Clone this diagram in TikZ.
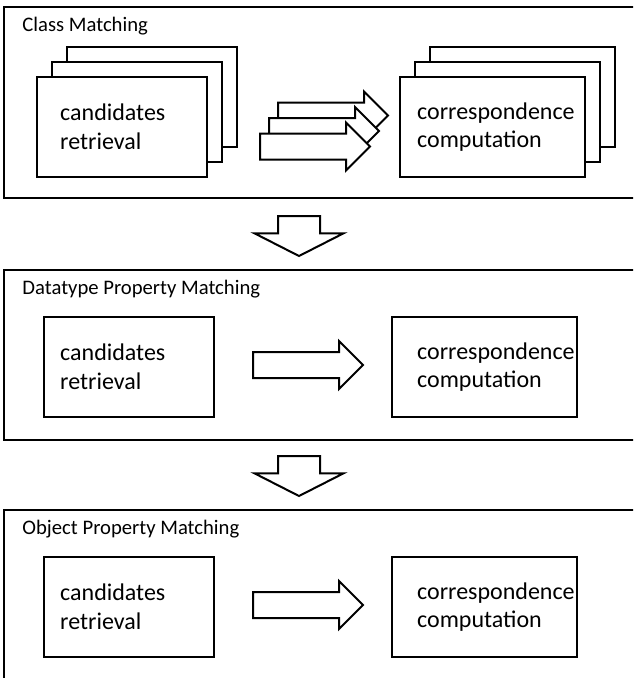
\documentclass[tikz,border=0pt]{standalone}
\usepackage{fontspec}
\setmainfont{Carlito}
\usetikzlibrary{shapes.arrows, positioning}
\tikzset{
	panel/.style={
		rectangle,
		draw=black,
		line width=1.2pt,
		inner sep=0pt
	},
	paneltitle/.style={
		anchor=west,
		inner sep=0pt,
		font=\fontsize{15.5}{19}\selectfont
	},
	stagebox/.style={
		rectangle,
		draw=black,
		fill=white,
		line width=1.6pt,
		minimum height=75pt,
		inner sep=0pt
	},
	stagetext/.style={
		align=left,
		inner sep=0pt,
		font=\fontsize{18}{21.5}\selectfont
	},
	flowarrow/.style={
		single arrow,
		draw=black,
		fill=white,
		line width=1.5pt,
		inner xsep=0pt,
		inner ysep=9pt,
		minimum height=82.5pt,
		minimum width=34.5pt,
		single arrow head extend=8.25pt,
		single arrow tip angle=90,
		anchor=tail
	},
	downarrow/.style={
		single arrow,
		draw=black,
		fill=white,
		line width=1.5pt,
		inner xsep=0pt,
		inner ysep=15pt,
		minimum height=30pt,
		minimum width=65pt,
		single arrow head extend=17.6pt,
		single arrow tip angle=126,
		rotate=-90,
		anchor=tail
	}
}

\begin{document}
\begin{tikzpicture}[x=0.75pt, y=-0.75pt]
	\useasboundingbox (0,0) rectangle (633,678);
	\fill[white] (0,0) rectangle (633,678);
	\clip (0,0) rectangle (633,678);

	% class matching
	\node (p1) [panel, minimum width=484.5pt, minimum height=143.25pt] at (327,102.5) {};
	\node (t1) [paneltitle, below right=8.25pt and 14.25pt of p1.north west] {Class Matching};
	\node (cl3) [stagebox, minimum width=127.5pt] at (152,97) {};
	\node (cl2) [stagebox, minimum width=127.5pt] at (137,112) {};
	\node (cl1) [stagebox, minimum width=127.5pt] at (122,127) {};
	\node (cltext) [stagetext, right=18pt of cl1.west] {candidates\\retrieval};
	\node (cr3) [stagebox, minimum width=138.75pt] at (522.5,97) {};
	\node (cr2) [stagebox, minimum width=138.75pt] at (507.5,112) {};
	\node (cr1) [stagebox, minimum width=138.75pt] at (492.5,127) {};
	\node (crtext) [stagetext, right=13.5pt of cr1.west] {correspondence\\computation};
	\foreach \k in {2,1,0}
		\node (ca\k) [flowarrow] at ({259+9*\k},{146.5-15.5*\k}) {};

	\node (dn1) [downarrow] at (299,215) {};

	% datatype property matching
	\node (p2) [panel, minimum width=484.5pt, minimum height=127.5pt] at (327,355) {};
	\node (t2) [paneltitle, below right=8.25pt and 14.25pt of p2.north west] {Datatype Property Matching};
	\node (dl) [stagebox, minimum width=127.5pt] at (129,367) {};
	\node (dltext) [stagetext, right=12.75pt of dl.west] {candidates\\retrieval};
	\node (dr) [stagebox, minimum width=138.75pt] at (484.5,367) {};
	\node (drtext) [stagetext, right=19.5pt of dr.west] {correspondence\\computation};
	\node (da) [flowarrow] at (252,365) {};

	\node (dn2) [downarrow] at (299,455) {};

	% object property matching
	\node (p3) [panel, minimum width=484.5pt, minimum height=142.5pt] at (327,605) {};
	\node (t3) [paneltitle, below right=8.25pt and 14.25pt of p3.north west] {Object Property Matching};
	\node (ol) [stagebox, minimum width=127.5pt] at (129,607) {};
	\node (oltext) [stagetext, right=12.75pt of ol.west] {candidates\\retrieval};
	\node (or) [stagebox, minimum width=138.75pt] at (484.5,607) {};
	\node (ortext) [stagetext, right=19.5pt of or.west] {correspondence\\computation};
	\node (oa) [flowarrow] at (252,605) {};
\end{tikzpicture}
\end{document}
